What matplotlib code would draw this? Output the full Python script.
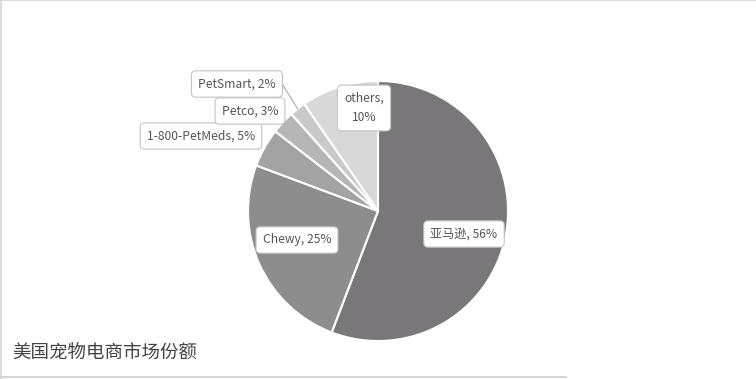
import numpy as np
import matplotlib.pyplot as plt
from matplotlib.lines import Line2D

plt.rcParams['font.family'] = ['Noto Sans CJK SC', 'DejaVu Sans']

# dados
empresas = ['亚马逊', 'Chewy', '1-800-PetMeds', 'Petco', 'PetSmart', 'others']
participacao = [55.8, 24.9, 4.8, 2.9, 2.0, 9.6]
titulo = '美国宠物电商市场份额'

cores = ['#797779', '#8e8d8e', '#a4a3a4', '#b7b6b7', '#c9c9c9', '#d8d8d8']

W, H = 756, 379
fig = plt.figure(figsize=(W / 100, H / 100), dpi=100)
ax = fig.add_axes([0, 0, 1, 1])

cx, cy, raio = 378, H - 211, 130
wedges, _ = ax.pie(participacao, colors=cores, startangle=90, counterclock=False,
                   center=(cx, cy), radius=raio, frame=True,
                   wedgeprops=dict(edgecolor='white', linewidth=1.5))
ax.set_xlim(0, W)
ax.set_ylim(0, H)
ax.set_aspect('equal')
ax.axis('off')

# posicao dos rotulos (pixels, y para baixo)
pos_rotulos = [(464, 234), (297, 240), (201, 136), (250, 111), (237, 84), (364, 108)]
caixa = dict(boxstyle='round,pad=0.55,rounding_size=0.35', fc='white', ec='#c4c4c4', lw=0.8)

for i, (nome, valor) in enumerate(zip(empresas, participacao)):
    x, y = pos_rotulos[i]
    if nome == 'others':
        txt = f'{nome},\n{valor:.0f}%'
    else:
        txt = f'{nome}, {valor:.0f}%'
    ax.text(x, H - y, txt, ha='center', va='center', fontsize=8.7, color='#555555',
            linespacing=1.65, bbox=caixa, zorder=5)

# linha guia do PetSmart
w = wedges[4]
ang = np.deg2rad((w.theta1 + w.theta2) / 2)
px, py = cx + raio * np.cos(ang), cy + raio * np.sin(ang)
ax.plot([281, px], [H - 82, py], color='#aaaaaa', lw=0.8, zorder=4)

fig.text(12 / W, 1 - 354 / H, titulo, fontsize=13.3, color='#444444', va='center', ha='left')

# moldura
fig.add_artist(Line2D([0, 1], [0.999, 0.999], color='#d6d6d6', lw=1.2, transform=fig.transFigure))
fig.add_artist(Line2D([0.001, 0.001], [0, 1], color='#d6d6d6', lw=1.2, transform=fig.transFigure))
fig.add_artist(Line2D([0, 566 / W], [2 / H, 2 / H], color='#d6d6d6', lw=1.5, transform=fig.transFigure))

fig.savefig('out.png', dpi=100)
